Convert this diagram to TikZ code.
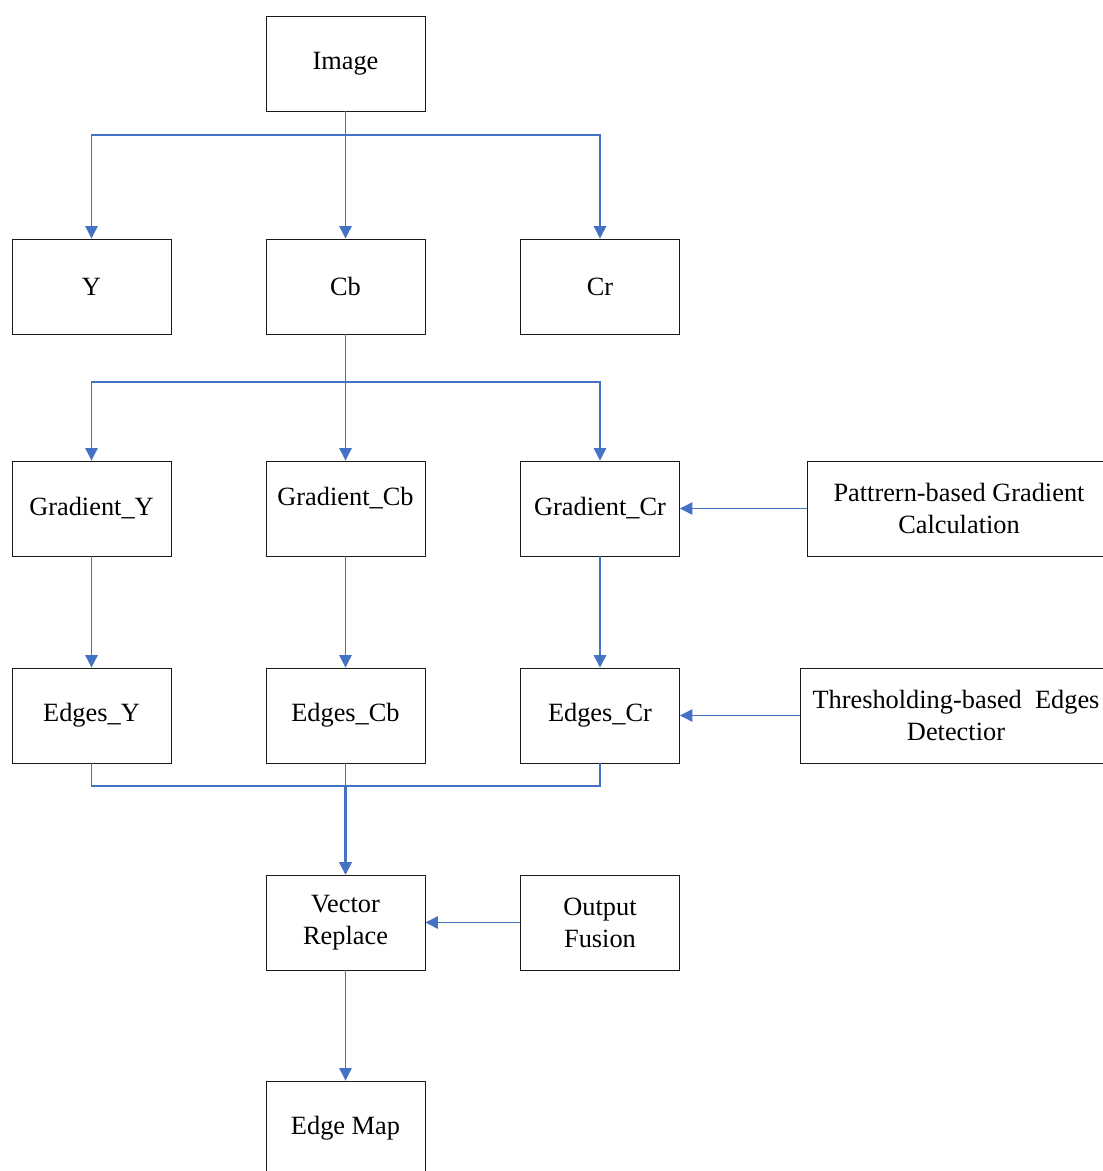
\documentclass[tikz,border=0pt]{standalone}
\usepackage{fontspec}
\setmainfont{Liberation Serif}
\usepackage{tikz}
\usetikzlibrary{arrows,arrows.meta,calc}
\definecolor{linkblue}{HTML}{4472C4}

\begin{document}
\begin{tikzpicture}[x=0.02cm,y=-0.02cm,
  every node/.style={font=\fontsize{15}{18.1}\selectfont},
  box/.style={draw=black!90,line width=0.55pt,minimum width=3.18cm,minimum height=1.9cm,inner sep=0pt,align=center},
  link/.style={draw=linkblue,line width=0.7pt},
  tip/.style={link,-{Triangle[width=7pt,length=7pt]}}]
\clip (0,0) rectangle (1103,1171);
\fill[white] (0,0) rectangle (1103,1171);

% colour planes
\node[box] (img) at (345.5,63.5) {Image};
\node[box] (y)   at (91.5,286.5) {Y};
\node[box] (cb)  at (345.5,286.5) {Cb};
\node[box] (cr)  at (600,286.5) {Cr};

% gradients
\node[box] (gy)  at (91.5,508.5) {Gradient\_Y};
\node[box] (gcb) at (345.5,508.5) {};
\node (gcbtext) at (345.5,498) {Gradient\_Cb};
\node[box] (gcr) at (600,508.5) {Gradient\_Cr};
\node[box,minimum width=6.08cm] (pat) at (959,508.5) {Pattrern-based Gradient\\Calculation};

% edges
\node[box] (ey)  at (91.5,715.5) {Edges\_Y};
\node[box] (ecb) at (345.5,715.5) {Edges\_Cb};
\node[box] (ecr) at (600,715.5) {Edges\_Cr};
\node[box,minimum width=6.24cm] (thr) at (956,715.5) {Thresholding-based\ \ Edges\\Detectior};

% output
\node[box] (vr)  at (345.5,922.5) {Vector\\Replace};
\node[box] (fus) at (600,922.5) {Output\\Fusion};
\node[box] (map) at (345.5,1128.5) {Edge Map};

\coordinate (s1) at (345.5,135);
\coordinate (s2) at (345.5,382);
\coordinate (s3) at (345.5,786);

\draw[link] (img.south) -- (s1);
\draw[tip] (s1) -| (y.north);
\draw[tip] (s1) -- (cb.north);
\draw[tip] (s1) -| (cr.north);

\draw[link] (cb.south) -- (s2);
\draw[tip] (s2) -| (gy.north);
\draw[tip] (s2) -- (gcb.north);
\draw[tip] (s2) -| (gcr.north);

\draw[tip] (gy.south) -- (ey.north);
\draw[tip] (gcb.south) -- (ecb.north);
\draw[tip] (gcr.south) -- (ecr.north);
\draw[tip] (pat.west) -- (gcr.east);
\draw[tip] (thr.west) -- (ecr.east);

\draw[link] (ey.south) |- (s3);
\draw[link] (ecr.south) |- (s3);
\draw[tip] (ecb.south) -- (vr.north);
\draw[tip,line width=1.2pt] (s3) -- (vr.north);
\draw[tip] (fus.west) -- (vr.east);
\draw[tip] (vr.south) -- (map.north);
\end{tikzpicture}
\end{document}
